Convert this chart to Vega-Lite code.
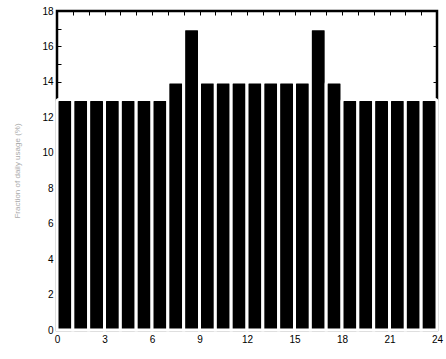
{
  "$schema": "https://vega.github.io/schema/vega-lite/v6.json",
  "autosize": "none",
  "padding": {"left": 57, "top": 11, "right": 9, "bottom": 29},
  "width": 380,
  "height": 319,
  "background": "white",
  "config": {
    "view": {"stroke": "black", "strokeWidth": 2.5},
    "axis": {"domain": false, "grid": false, "labelFont": "Liberation Sans", "labelFontSize": 10, "labelColor": "black", "tickColor": "black"}
  },
  "data": {
    "values": [
      {"h0": 0, "h1": 1, "n": 13},
      {"h0": 1, "h1": 2, "n": 13},
      {"h0": 2, "h1": 3, "n": 13},
      {"h0": 3, "h1": 4, "n": 13},
      {"h0": 4, "h1": 5, "n": 13},
      {"h0": 5, "h1": 6, "n": 13},
      {"h0": 6, "h1": 7, "n": 13},
      {"h0": 7, "h1": 8, "n": 14},
      {"h0": 8, "h1": 9, "n": 17},
      {"h0": 9, "h1": 10, "n": 14},
      {"h0": 10, "h1": 11, "n": 14},
      {"h0": 11, "h1": 12, "n": 14},
      {"h0": 12, "h1": 13, "n": 14},
      {"h0": 13, "h1": 14, "n": 14},
      {"h0": 14, "h1": 15, "n": 14},
      {"h0": 15, "h1": 16, "n": 14},
      {"h0": 16, "h1": 17, "n": 17},
      {"h0": 17, "h1": 18, "n": 14},
      {"h0": 18, "h1": 19, "n": 13},
      {"h0": 19, "h1": 20, "n": 13},
      {"h0": 20, "h1": 21, "n": 13},
      {"h0": 21, "h1": 22, "n": 13},
      {"h0": 22, "h1": 23, "n": 13},
      {"h0": 23, "h1": 24, "n": 13}
    ]
  },
  "layer": [
    {
      "mark": {"type": "rect", "fill": "black", "cornerRadiusTopLeft": 2, "cornerRadiusTopRight": 2, "stroke": "white", "strokeWidth": 3},
      "encoding": {
        "x": {"field": "h0", "type": "quantitative",
              "scale": {"domain": [0, 24], "nice": false, "zero": false, "padding": 0},
              "axis": {"orient": "bottom", "title": null, "values": [0, 3, 6, 9, 12, 15, 18, 21, 24], "tickSize": -4, "labelPadding": 8, "labelFlush": false}},
        "x2": {"field": "h1"},
        "y": {"field": "n", "type": "quantitative",
              "scale": {"domain": [0, 18], "nice": false, "padding": 0},
              "axis": {"orient": "left", "title": "Fraction of daily usage (%)", "titleColor": "#aaaaaa", "titleFontSize": 8, "titleFontWeight": "normal", "titleFont": "Liberation Sans", "titlePadding": 20,
                       "values": [0, 1, 2, 3, 4, 5, 6, 7, 8, 9, 10, 11, 12, 13, 14, 15, 16, 17, 18],
                       "labelExpr": "datum.value % 2 === 0 ? datum.label : ''", "tickSize": -4, "labelPadding": 8}},
        "y2": {"datum": 0}
      }
    },
    {
      "mark": {"type": "point", "opacity": 0},
      "encoding": {
        "x": {"field": "h0", "type": "quantitative",
              "axis": {"orient": "top", "title": null, "labels": false, "values": [0, 1, 2, 3, 4, 5, 6, 7, 8, 9, 10, 11, 12, 13, 14, 15, 16, 17, 18, 19, 20, 21, 22, 23, 24], "tickSize": -4}},
        "y": {"field": "n", "type": "quantitative",
              "axis": {"orient": "right", "title": null, "labels": false, "values": [0, 2, 4, 6, 8, 10, 12, 14, 16, 18], "tickSize": -4}}
      }
    }
  ],
  "resolve": {"axis": {"x": "independent", "y": "independent"}}
}
